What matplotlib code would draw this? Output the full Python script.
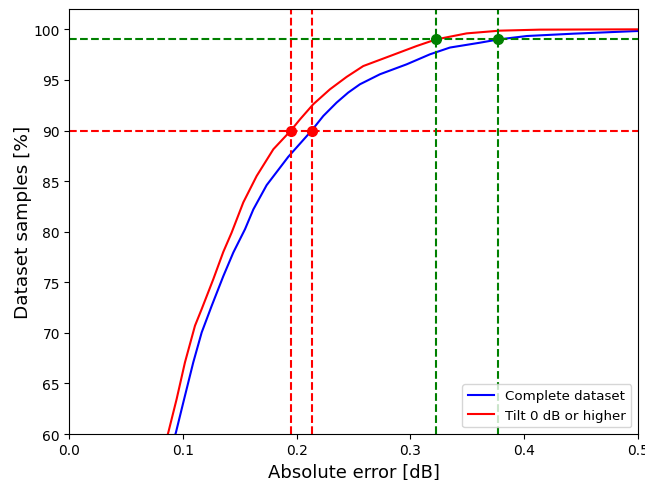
import matplotlib
matplotlib.use("Agg")
import matplotlib.pyplot as plt

# Data (cumulative share of samples vs absolute error)
complete_x = [0.0, 0.080, 0.0940, 0.1004, 0.1092, 0.1166, 0.1254, 0.1356, 0.1444, 0.1547,
              0.1620, 0.1737, 0.1927, 0.2133, 0.2235, 0.2352, 0.2454, 0.2557, 0.2733,
              0.2967, 0.3172, 0.3348, 0.3612, 0.3773, 0.4024, 0.4431, 0.4988, 0.5000]
complete_y = [0.0, 55.0, 60.17, 63.1, 67.08, 70.04, 72.67, 75.6, 77.94, 80.25,
              82.2, 84.6, 87.4, 90.0, 91.44, 92.76, 93.75, 94.57, 95.56,
              96.54, 97.53, 98.2, 98.68, 99.0, 99.34, 99.57, 99.83, 99.83]

tilt_x = [0.0, 0.074, 0.0873, 0.0946, 0.1019, 0.1107, 0.1166, 0.1268, 0.1356, 0.1429,
          0.1532, 0.1649, 0.1796, 0.1950, 0.2030, 0.2147, 0.2293, 0.2440,
          0.2586, 0.2821, 0.3055, 0.3225, 0.3495, 0.3787, 0.4139, 0.4988, 0.5000]
tilt_y = [0.0, 55.0, 60.17, 63.46, 67.08, 70.7, 72.35, 75.3, 78.0, 79.9,
          82.9, 85.5, 88.15, 90.0, 91.1, 92.6, 94.07, 95.3,
          96.37, 97.36, 98.35, 99.0, 99.6, 99.87, 99.97, 100.0, 100.0]

p90_level = 90
p99_level = 99
p90_x = [0.195, 0.2135]   # tilt, complete
p99_x = [0.3225, 0.377]   # tilt, complete

fig = plt.figure(figsize=(6.45, 4.81), dpi=100)
ax = fig.add_axes([0.107, 0.0956, 0.882, 0.8834])

ax.plot(complete_x, complete_y, color="blue", lw=1.5, label="Complete dataset")
ax.plot(tilt_x, tilt_y, color="red", lw=1.5, label="Tilt 0 dB or higher")

ax.axhline(p90_level, color="red", ls="--", lw=1.5)
ax.axhline(p99_level, color="green", ls="--", lw=1.5)
for xv in p90_x:
    ax.axvline(xv, color="red", ls="--", lw=1.5)
    ax.plot([xv], [p90_level], "o", color="red", ms=7, zorder=5)
for xv in p99_x:
    ax.axvline(xv, color="green", ls="--", lw=1.5)
    ax.plot([xv], [p99_level], "o", color="green", ms=7, zorder=5)

ax.set_xlim(0, 0.5)
ax.set_ylim(60, 102)
ax.set_yticks([60, 65, 70, 75, 80, 85, 90, 95, 100])
ax.set_xticks([0.0, 0.1, 0.2, 0.3, 0.4, 0.5])
ax.tick_params(labelsize=10, pad=3)
ax.set_xlabel("Absolute error [dB]", fontsize=13, labelpad=4)
ax.set_ylabel("Dataset samples [%]", fontsize=13.3, labelpad=1)
ax.legend(loc="lower right", fontsize=9.6)

fig.savefig("out.png", dpi=100)
